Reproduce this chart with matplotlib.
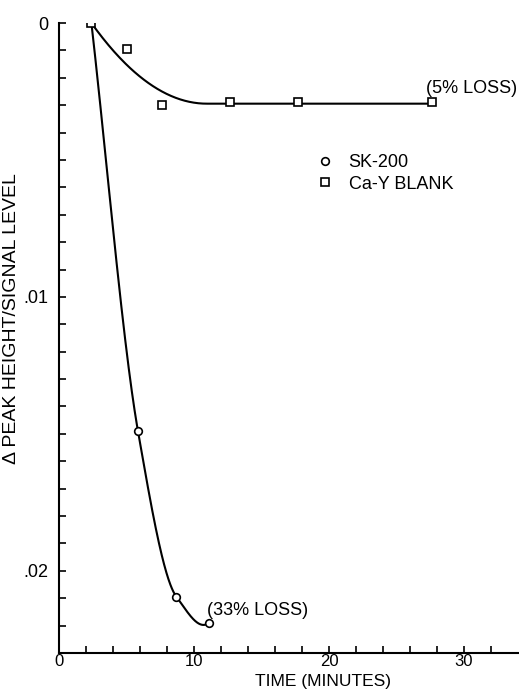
import numpy as np
import matplotlib
matplotlib.use("Agg")
from matplotlib import pyplot as plt
from matplotlib.lines import Line2D

# data
sk_time = [2.4, 5.85, 8.7, 11.1]
sk_delta = [0.0, 0.0149, 0.02095, 0.0219]
blank_time = [2.4, 5.0, 7.6, 12.7, 17.7, 27.6]
blank_delta = [0.0, 0.00095, 0.0030, 0.0029, 0.0029, 0.0029]

x_ticks = [0, 10, 20, 30]
y_ticks = [0.0, 0.01, 0.02]
y_tick_labels = ["0", ".01", ".02"]


def smooth_curve(x, y, xs):
    # monotone cubic through the measured points (hand-drawn looking curve)
    x = np.asarray(x, float)
    y = np.asarray(y, float)
    h = np.diff(x)
    d = np.diff(y) / h
    m = np.zeros_like(x)
    for k in range(1, len(x) - 1):
        if d[k - 1] * d[k] > 0:
            w1 = 2 * h[k] + h[k - 1]
            w2 = h[k] + 2 * h[k - 1]
            m[k] = (w1 + w2) / (w1 / d[k - 1] + w2 / d[k])
    m[0] = d[0]
    m[-1] = ((2 * h[-1] + h[-2]) * d[-1] - h[-1] * d[-2]) / (h[-1] + h[-2])
    idx = np.clip(np.searchsorted(x, xs) - 1, 0, len(h) - 1)
    t = (xs - x[idx]) / h[idx]
    h00 = 2 * t**3 - 3 * t**2 + 1
    h10 = t**3 - 2 * t**2 + t
    h01 = -2 * t**3 + 3 * t**2
    h11 = t**3 - t**2
    return h00 * y[idx] + h10 * h[idx] * m[idx] + h01 * y[idx + 1] + h11 * h[idx] * m[idx + 1]


def plateau_fit(x, y):
    # y = A * (1 - (1 - (x - x0)/L)^2) up to x0 + L, flat after; least squares over L
    x = np.asarray(x, float)
    y = np.asarray(y, float)
    x0 = x[0]
    best = None
    for L in np.linspace(2, 15, 400):
        t = np.clip((x - x0) / L, 0, 1)
        f = 1 - (1 - t) ** 2
        A = (f @ y) / (f @ f)
        err = np.sum((A * f - y) ** 2)
        if best is None or err < best[0]:
            best = (err, A, L)
    A, L = best[1], best[2]
    return lambda xx: A * (1 - (1 - np.clip((xx - x0) / L, 0, 1)) ** 2)


plt.rcParams['font.family'] = ['Liberation Sans', 'DejaVu Sans']
FS = 13

fig = plt.figure(figsize=(5.19, 6.89), dpi=100)
ax = fig.add_axes([59 / 519, 36 / 689, 459 / 519, 630 / 689])

# curves
xs = np.linspace(sk_time[0], sk_time[-1], 300)
ax.plot(xs, smooth_curve(sk_time, sk_delta, xs), color='black', lw=1.5, zorder=2)

blank_curve = plateau_fit(blank_time, blank_delta)
xb = np.linspace(blank_time[0], blank_time[-1], 300)
ax.plot(xb, blank_curve(xb), color='black', lw=1.5, zorder=2)

# points
ax.plot(sk_time[1:], sk_delta[1:], 'o', ms=5.5, mfc='white', mec='black', mew=1.2, zorder=3)
ax.plot(blank_time, blank_delta, 's', ms=6, mfc='white', mec='black', mew=1.2, zorder=3)

ax.text(sk_time[-1] - 0.15, sk_delta[-1] - 0.00045, "(33% LOSS)", fontsize=FS, va='center', ha='left')
ax.text(blank_time[-1] - 0.4, blank_delta[-1] - 0.0005, "(5% LOSS)", fontsize=FS, va='center', ha='left')

handles = [
    Line2D([], [], ls='none', marker='o', ms=5.5, mfc='white', mec='black', mew=1.2),
    Line2D([], [], ls='none', marker='s', ms=6, mfc='white', mec='black', mew=1.2),
]
ax.legend(handles, ["SK-200", "Ca-Y BLANK"], loc='upper left',
          bbox_to_anchor=((318 - 59) / 459, 1 - (154 - 23) / 630),
          frameon=False, fontsize=FS, handlelength=0.8, handletextpad=0.9,
          labelspacing=0.25, borderaxespad=0, borderpad=0)

ax.set_xlim(0, 34)
ax.set_ylim(0.023, 0.0)
ax.set_xticks(x_ticks)
ax.set_xticks(np.arange(0, 34, 2), minor=True)
ax.set_yticks(y_ticks)
ax.set_yticklabels(y_tick_labels)
ax.set_yticks(np.arange(0, 0.0231, 0.001), minor=True)
ax.tick_params(which='both', direction='in', length=5, width=1.2, labelsize=FS)
ax.tick_params(axis='y', which='major', pad=8)
ax.tick_params(axis='x', which='major', pad=1, labelsize=12)

for side in ['top', 'right']:
    ax.spines[side].set_visible(False)
for side in ['left', 'bottom']:
    ax.spines[side].set_linewidth(1.5)

fig.text(323 / 519, 0.0, "TIME (MINUTES)", fontsize=12.5, ha='center', va='bottom')
ax.set_ylabel("Δ PEAK HEIGHT/SIGNAL LEVEL", fontsize=FS + 1)
ax.yaxis.set_label_coords(-(59 - 20) / 459, 1 - (319 - 23) / 630)

fig.savefig("out.png", dpi=100)
